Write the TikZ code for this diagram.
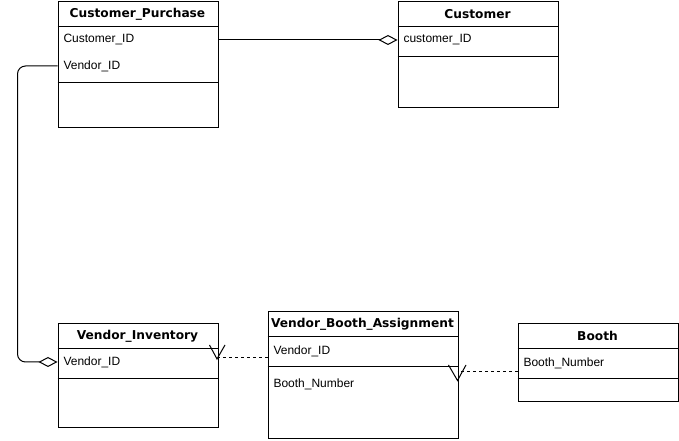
\documentclass[tikz,border=0pt]{standalone}
\usepackage{fontspec}
\setmainfont{Liberation Sans}
\newfontfamily\headfont{DejaVu Sans}
\usetikzlibrary{arrows.meta}
\newlength{\px}\setlength{\px}{0.75pt}
\begin{document}
\begin{tikzpicture}[x=\px,y=-\px,line width=\px,font=\fontsize{9}{11}\selectfont]
  \tikzset{
    tbl/.style={draw,rectangle,anchor=north west,minimum width=160\px,inner sep=0pt},
    head/.style={font=\headfont\fontsize{9.15}{11}\selectfont\bfseries},
    field/.style={anchor=west,inner sep=0pt},
    dashlink/.style={dash pattern=on 3\px off 3\px},
    agg/.style={-{Diamond[open,length=14.25pt,width=7.5pt]}}}
  \useasboundingbox (0,0) rectangle (679,441);
  % Customer_Purchase
  \node[tbl,minimum height=125.5\px] (cp) at (57.5,1.5) {};
  \draw (cp.north west) ++(0,25) -- ++(160,0);
  \draw (cp.north west) ++(0,81) -- ++(160,0);
  \node[head] (cpT) at (137.5,14) {Customer\_Purchase};
  \node[field] (cpCid) at (63,40) {Customer\_ID};
  \node[field] (cpVid) at (63,66) {Vendor\_ID};
  % Customer
  \node[tbl,minimum height=105.5\px] (cu) at (397.5,1.5) {};
  \draw (cu.north west) ++(0,25.5) -- ++(160,0);
  \draw (cu.north west) ++(0,55) -- ++(160,0);
  \node[head] (cuT) at (477.5,14) {Customer};
  \node[field] (cuCid) at (403,40) {customer\_ID};
  % Vendor_Inventory
  \node[tbl,minimum height=104\px] (vi) at (57.5,323) {};
  \draw (vi.north west) ++(0,26) -- ++(160,0);
  \draw (vi.north west) ++(0,56) -- ++(160,0);
  \node[head] (viT) at (137.5,336) {Vendor\_Inventory};
  \node[field] (viVid) at (63,362) {Vendor\_ID};
  % Vendor_Booth_Assignment
  \node[tbl,minimum width=190\px,minimum height=127.5\px] (vba) at (267.5,311) {};
  \draw (vba.north west) ++(0,26) -- ++(190,0);
  \draw (vba.north west) ++(0,56) -- ++(190,0);
  \node[head] (vbaT) at (362.5,324) {Vendor\_Booth\_Assignment};
  \node[field] (vbaVid) at (273,351) {Vendor\_ID};
  \node[field] (vbaBn) at (273,384) {Booth\_Number};
  % Booth
  \node[tbl,minimum height=78\px] (bo) at (517.5,323) {};
  \draw (bo.north west) ++(0,25.5) -- ++(160,0);
  \draw (bo.north west) ++(0,55.5) -- ++(160,0);
  \node[head] (boT) at (597.5,336) {Booth};
  \node[field] (boBn) at (523,363) {Booth\_Number};
  % links
  \draw[agg] (cp.east |- cpCid) -- (cu.west |- cuCid);
  \draw[agg,rounded corners=8\px] (cp.west |- cpVid) -- ++(-40,0) |- (vi.west |- viVid);
  \coordinate (v1) at (217.5,357.5);
  \draw[dashlink] (vba.west |- v1) -- (v1);
  \draw (v1) ++(-8,-12.5) -- ++(7.5,14) -- ++(8,-14);
  \coordinate (v2) at (457.5,372);
  \draw[dashlink] (bo.west |- v2) -- (v2);
  \draw (v2) ++(-9,-7) -- ++(9,15.5) -- ++(8.5,-15.5);
\end{tikzpicture}
\end{document}
